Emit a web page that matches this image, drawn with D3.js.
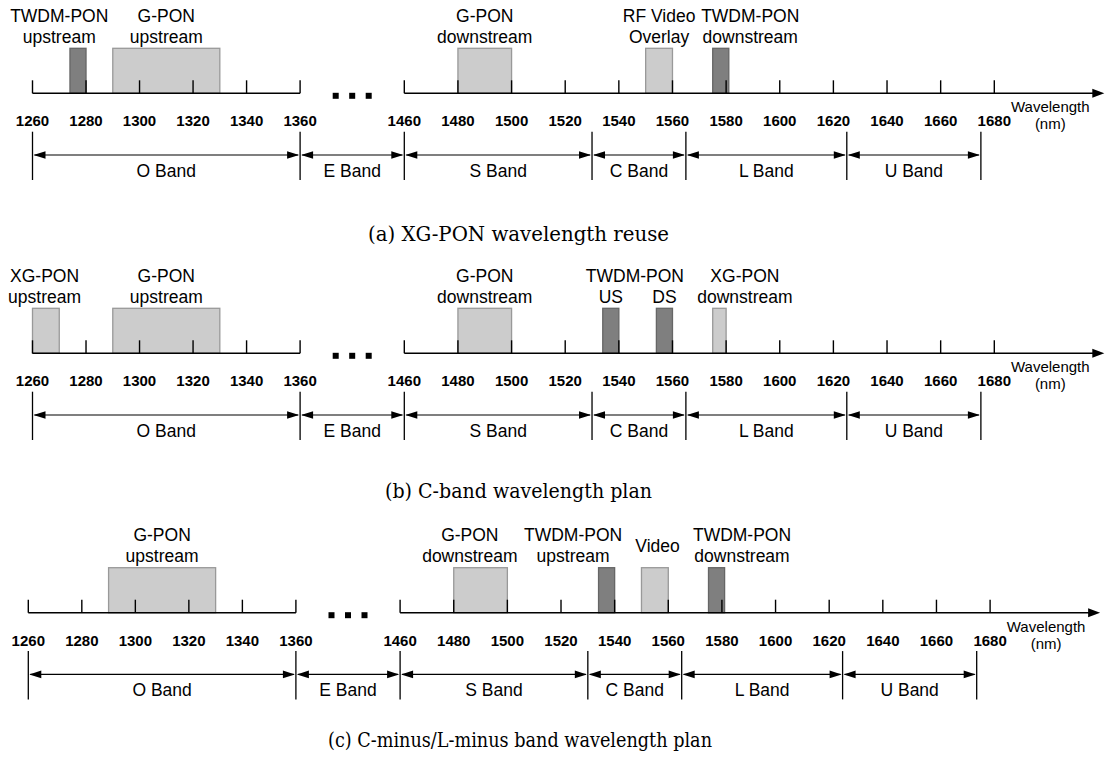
<!DOCTYPE html>
<html lang="en">
<head>
	<meta charset="UTF-8">
	<title>PON wavelength plans</title>
	<script src="https://cdn.jsdelivr.net/npm/d3@7/dist/d3.min.js"></script>
	<style>
		body { margin: 0; background: #fff; }
		text { font-family: "Liberation Sans", Arial, sans-serif; fill: #000; }
	</style>
</head>
<body>
<script>
	// axis ticks and band edges (nm)
	var tickValues = [1260, 1280, 1300, 1320, 1340, 1360, 1460, 1480, 1500, 1520, 1540, 1560, 1580, 1600, 1620, 1640, 1660, 1680];
	var bandNames = ['O Band', 'E Band', 'S Band', 'C Band', 'L Band', 'U Band'];
	var bandEdges = [1260, 1360, 1460, 1530, 1565, 1625, 1675];
	var captions = ['(a) XG-PON wavelength reuse', '(b) C-band wavelength plan', '(c) C-minus/L-minus band wavelength plan'];

	// channel blocks: [from, to] in nm, kind picks the shade
	var reuseChannels = [
		{from: 1274, to: 1280, kind: 'twdm'},
		{from: 1290, to: 1330, kind: 'legacy'},
		{from: 1480, to: 1500, kind: 'legacy'},
		{from: 1550, to: 1560, kind: 'legacy'},
		{from: 1575, to: 1581, kind: 'twdm'}
	];
	var cbandChannels = [
		{from: 1260, to: 1270, kind: 'legacy'},
		{from: 1290, to: 1330, kind: 'legacy'},
		{from: 1480, to: 1500, kind: 'legacy'},
		{from: 1534, to: 1540, kind: 'twdm'},
		{from: 1554, to: 1560, kind: 'twdm'},
		{from: 1575, to: 1580, kind: 'legacy'}
	];
	var cminusChannels = [
		{from: 1290, to: 1330, kind: 'legacy'},
		{from: 1480, to: 1500, kind: 'legacy'},
		{from: 1534, to: 1540, kind: 'twdm'},
		{from: 1550, to: 1560, kind: 'legacy'},
		{from: 1575, to: 1581, kind: 'twdm'}
	];

	// labels above the blocks, 'at' = wavelength of the text centre
	var reuseLabels = [
		{lines: ['TWDM-PON', 'upstream'], at: 1270},
		{lines: ['G-PON', 'upstream'], at: 1310},
		{lines: ['G-PON', 'downstream'], at: 1490},
		{lines: ['RF Video', 'Overlay'], at: 1555},
		{lines: ['TWDM-PON', 'downstream'], at: 1589}
	];
	var cbandLabels = [
		{lines: ['XG-PON', 'upstream'], at: 1264.5},
		{lines: ['G-PON', 'upstream'], at: 1310},
		{lines: ['G-PON', 'downstream'], at: 1490},
		{lines: ['TWDM-PON', null], at: 1546},
		{lines: [null, 'US'], at: 1537},
		{lines: [null, 'DS'], at: 1557},
		{lines: ['XG-PON', 'downstream'], at: 1587}
	];
	var cminusLabels = [
		{lines: ['G-PON', 'upstream'], at: 1310},
		{lines: ['G-PON', 'downstream'], at: 1486},
		{lines: ['TWDM-PON', 'upstream'], at: 1524.5},
		{lines: ['Video'], at: 1556},
		{lines: ['TWDM-PON', 'downstream'], at: 1587.5}
	];

	var panels = [
		{channels: reuseChannels, labels: reuseLabels, caption: captions[0], axisY: 93.3, x0: 32.5, capY: 148, capW: 301, capX: 518.5},
		{channels: cbandChannels, labels: cbandLabels, caption: captions[1], axisY: 353.3, x0: 32.5, capY: 145, capW: 267, capX: 518.5},
		{channels: cminusChannels, labels: cminusLabels, caption: captions[2], axisY: 612.7, x0: 28.3, capY: 134, capW: 384, capX: 520}
	];

	var width = 1105, height = 760;
	var color = d3.scaleOrdinal().domain(['legacy', 'twdm']).range(['#cccccc', '#7f7f7f']);
	var edge = d3.scaleOrdinal().domain(['legacy', 'twdm']).range(['#999999', '#666666']);

	var svg = d3.select('body').append('svg')
		.attr('width', width)
		.attr('height', height);

	panels.forEach(function (p) {
		// broken axis: 1360-1460 squeezed into the gap with the dots
		var x = d3.scaleLinear()
			.domain([1260, 1360, 1460, 1680])
			.range([p.x0, p.x0 + 267.6, p.x0 + 371.8, p.x0 + 961.8]);

		var g = svg.append('g').attr('transform', 'translate(0,' + p.axisY + ')');

		// blocks
		g.selectAll('.chan')
			.data(p.channels)
			.enter().append('rect')
			.attr('class', 'chan')
			.attr('x', function (d) { return x(d.from); })
			.attr('y', -45)
			.attr('width', function (d) { return x(d.to) - x(d.from); })
			.attr('height', 45)
			.style('fill', function (d) { return color(d.kind); })
			.style('stroke', function (d) { return edge(d.kind); })
			.style('stroke-width', 1.3);

		// labels
		var lineH = 21, mid = -61.1;
		p.labels.forEach(function (l) {
			var n = l.lines.length;
			l.lines.forEach(function (t, i) {
				if (!t) return;
				g.append('text')
					.attr('x', x(l.at))
					.attr('y', mid + (i - (n - 1) / 2) * lineH)
					.attr('text-anchor', 'middle')
					.style('font-size', '17.5px')
					.text(t);
			});
		});

		// axis line, two pieces
		g.append('line')
			.attr('x1', x(1260)).attr('x2', x(1360))
			.attr('y1', 0).attr('y2', 0)
			.style('stroke', '#000').style('stroke-width', 1.4);
		var tipX = x(1680) + 110;
		g.append('line')
			.attr('x1', x(1460)).attr('x2', tipX - 8)
			.attr('y1', 0).attr('y2', 0)
			.style('stroke', '#000').style('stroke-width', 1.4);
		g.append('path')
			.attr('d', 'M' + tipX + ',0L' + (tipX - 12) + ',-4.5L' + (tipX - 12) + ',4.5Z')
			.style('fill', '#000');

		// dots in the gap
		var gapMid = (x(1360) + x(1460)) / 2;
		g.selectAll('.dot')
			.data([-16.5, 0, 16.5])
			.enter().append('rect')
			.attr('class', 'dot')
			.attr('x', function (d) { return gapMid + d - 3; })
			.attr('y', -0.5)
			.attr('width', 6)
			.attr('height', 6)
			.style('fill', '#000');

		// ticks
		g.selectAll('.tick')
			.data(tickValues)
			.enter().append('line')
			.attr('class', 'tick')
			.attr('x1', function (d) { return x(d); })
			.attr('x2', function (d) { return x(d); })
			.attr('y1', -13).attr('y2', 0)
			.style('stroke', '#000').style('stroke-width', 1.4);
		g.selectAll('.tlab')
			.data(tickValues)
			.enter().append('text')
			.attr('class', 'tlab')
			.attr('x', function (d) { return x(d); })
			.attr('y', 33)
			.attr('text-anchor', 'middle')
			.style('font-size', '15px')
			.style('font-weight', 'bold')
			.text(function (d) { return d; });

		g.append('text')
			.attr('x', x(1680) + 56).attr('y', 19)
			.attr('text-anchor', 'middle')
			.style('font-size', '15px')
			.text('Wavelength');
		g.append('text')
			.attr('x', x(1680) + 56).attr('y', 36)
			.attr('text-anchor', 'middle')
			.style('font-size', '15px')
			.text('(nm)');

		// bands
		g.selectAll('.sep')
			.data(bandEdges)
			.enter().append('line')
			.attr('class', 'sep')
			.attr('x1', function (d) { return x(d); })
			.attr('x2', function (d) { return x(d); })
			.attr('y1', 38.4).attr('y2', 86.7)
			.style('stroke', '#000').style('stroke-width', 1.3);

		var bands = bandNames.map(function (name, i) {
			return {name: name, a: bandEdges[i], b: bandEdges[i + 1]};
		});
		var ay = 61.7, head = 12, hw = 3.8;
		var bg = g.selectAll('.band')
			.data(bands)
			.enter().append('g')
			.attr('class', 'band');
		bg.append('line')
			.attr('x1', function (d) { return x(d.a) + 2; })
			.attr('x2', function (d) { return x(d.b) - 2; })
			.attr('y1', ay).attr('y2', ay)
			.style('stroke', '#000').style('stroke-width', 1.2);
		bg.append('path')
			.attr('d', function (d) {
				var l = x(d.a) + 1, r = x(d.b) - 1;
				return 'M' + l + ',' + ay + 'L' + (l + head) + ',' + (ay - hw) + 'L' + (l + head) + ',' + (ay + hw) + 'Z' +
					'M' + r + ',' + ay + 'L' + (r - head) + ',' + (ay - hw) + 'L' + (r - head) + ',' + (ay + hw) + 'Z';
			})
			.style('fill', '#000');
		bg.append('text')
			.attr('x', function (d) { return (x(d.a) + x(d.b)) / 2; })
			.attr('y', 83.3)
			.attr('text-anchor', 'middle')
			.style('font-size', '17.5px')
			.text(function (d) { return d.name; });

		// caption
		g.append('text')
			.attr('x', p.capX)
			.attr('y', p.capY)
			.attr('text-anchor', 'middle')
			.attr('textLength', p.capW)
			.attr('lengthAdjust', 'spacingAndGlyphs')
			.style('font-family', '"DejaVu Serif", serif')
			.style('font-size', '20px')
			.text(p.caption);
	});
</script>
</body>
</html>
